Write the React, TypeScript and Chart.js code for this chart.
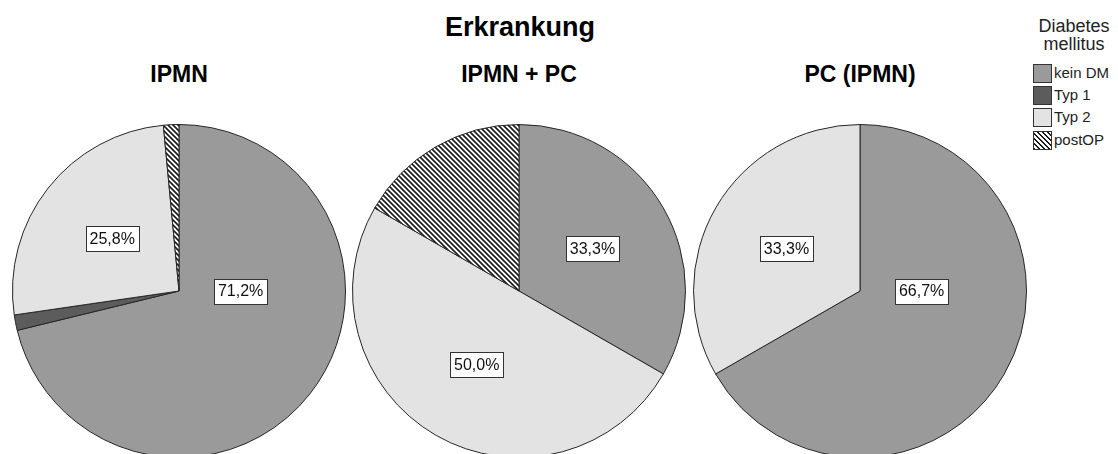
import React, { useEffect, useRef } from "react";
import { Chart, registerables } from "chart.js";
Chart.register(...registerables);

const categories = ["kein DM", "Typ 1", "Typ 2", "postOP"];
const groups = ["IPMN", "IPMN + PC", "PC (IPMN)"];
const ipmnValues = [71.2, 1.5, 25.8, 1.5];
const ipmnPcValues = [33.3, 0, 50.0, 16.7];
const pcIpmnValues = [66.7, 0, 33.3, 0];
const labelledCategories = ["kein DM", "Typ 1", "Typ 2"];
const chartTitle = "Erkrankung";
const legendTitle = ["Diabetes", "mellitus"];

const FONT = '"Liberation Sans", Arial, Helvetica, sans-serif';
const R = 166;
const CY = 291;
const centersX = [179, 519, 860];
const sliceColors = ["#9a9a9a", "#5c5c5c", "#e3e3e3"];

function makeHatch(): CanvasPattern {
  const c = document.createElement("canvas");
  c.width = 5;
  c.height = 5;
  const g = c.getContext("2d")!;
  g.fillStyle = "#ffffff";
  g.fillRect(0, 0, 5, 5);
  g.strokeStyle = "#1a1a1a";
  g.lineWidth = 1.6;
  g.beginPath();
  g.moveTo(-1, -1);
  g.lineTo(6, 6);
  g.moveTo(-1, 4);
  g.lineTo(1, 6);
  g.moveTo(4, -1);
  g.lineTo(6, 1);
  g.stroke();
  return g.createPattern(c, "repeat")!;
}

const labelPlugin = {
  id: "sliceLabels",
  afterDatasetsDraw(chart: any) {
    const ctx = chart.ctx as CanvasRenderingContext2D;
    const meta = chart.getDatasetMeta(0);
    const data = chart.data.datasets[0].data as number[];
    const labels = chart.data.labels as string[];
    const total = data.reduce((a, b) => a + b, 0);
    meta.data.forEach((arc: any, i: number) => {
      const v = data[i];
      const frac = v / total;
      if (frac < 0.05) return;
      if (!labelledCategories.includes(labels[i])) return;
      const { x, y, startAngle, endAngle, outerRadius } = arc.getProps(
        ["x", "y", "startAngle", "endAngle", "outerRadius"],
        true
      );
      let ang: number;
      let dist: number;
      if (frac > 0.5) {
        ang = 0;
        dist = 0.37 * outerRadius;
      } else {
        ang = (startAngle + endAngle) / 2;
        dist = 0.51 * outerRadius;
      }
      const lx = x + Math.cos(ang) * dist;
      const ly = y + Math.sin(ang) * dist;
      const text = v.toFixed(1).replace(".", ",") + "%";
      ctx.save();
      ctx.font = `16px ${FONT}`;
      const w = Math.round(ctx.measureText(text).width + 8);
      const h = 25;
      const bx = Math.round(lx - w / 2) + 0.5;
      const by = Math.round(ly - h / 2) + 0.5;
      ctx.fillStyle = "#ffffff";
      ctx.fillRect(bx, by, w, h);
      ctx.strokeStyle = "#333333";
      ctx.lineWidth = 1;
      ctx.strokeRect(bx, by, w, h);
      ctx.fillStyle = "#111111";
      ctx.textAlign = "center";
      ctx.textBaseline = "middle";
      ctx.fillText(text, lx, ly + 1);
      ctx.restore();
    });
  },
};

function Pie({ values, cx }: { values: number[]; cx: number }) {
  const ref = useRef<HTMLCanvasElement>(null);
  const size = 2 * R + 2;
  useEffect(() => {
    const hatch = makeHatch();
    const chart = new Chart(ref.current!, {
      type: "pie",
      data: {
        labels: categories,
        datasets: [
          {
            data: values,
            backgroundColor: [...sliceColors, hatch] as any,
            borderColor: "#262626",
            borderWidth: 1,
          },
        ],
      },
      options: {
        responsive: false,
        animation: false,
        layout: { padding: 0 },
        plugins: {
          legend: { display: false },
          tooltip: { enabled: false },
          title: { display: false },
        },
      },
      plugins: [labelPlugin],
    });
    return () => chart.destroy();
  }, []);
  return (
    <canvas
      ref={ref}
      width={size}
      height={size}
      style={{
        position: "absolute",
        left: cx - size / 2,
        top: CY - size / 2,
        width: size,
        height: size,
      }}
    />
  );
}

export default function App() {
  const allValues = [ipmnValues, ipmnPcValues, pcIpmnValues];
  const swatch = (i: number): React.CSSProperties => {
    const base: React.CSSProperties = {
      position: "absolute",
      left: 1033,
      width: 17,
      height: 17,
      border: "1px solid #333",
    };
    if (i < 3) return { ...base, background: sliceColors[i] };
    return {
      ...base,
      background:
        "repeating-linear-gradient(45deg, #1a1a1a 0px, #1a1a1a 1.2px, #ffffff 1.2px, #ffffff 3.5px)",
    };
  };
  const itemY = [73, 95, 117, 140];
  return (
    <div
      style={{
        position: "fixed",
        left: 0,
        top: 0,
        width: 1118,
        height: 454,
        overflow: "hidden",
        background: "#ffffff",
        fontFamily: FONT,
        color: "#000",
      }}
    >
      <div
        style={{
          position: "absolute",
          left: 320,
          width: 400,
          top: 14,
          textAlign: "center",
          fontSize: 27,
          lineHeight: "27px",
          fontWeight: "bold",
        }}
      >
        {chartTitle}
      </div>
      {groups.map((g, i) => (
        <div
          key={g}
          style={{
            position: "absolute",
            left: centersX[i] - 150,
            width: 300,
            top: 63,
            textAlign: "center",
            fontSize: 23,
            lineHeight: "23px",
            fontWeight: "bold",
          }}
        >
          {g}
        </div>
      ))}
      {groups.map((g, i) => (
        <Pie key={g} values={allValues[i]} cx={centersX[i]} />
      ))}
      <div
        style={{
          position: "absolute",
          left: 1024,
          width: 100,
          top: 17,
          textAlign: "center",
          fontSize: 18,
          lineHeight: "18px",
          color: "#222",
        }}
      >
        {legendTitle.map((t) => (
          <div key={t}>{t}</div>
        ))}
      </div>
      {categories.map((c, i) => (
        <React.Fragment key={c}>
          <div style={{ ...swatch(i), top: itemY[i] - 9 }} />
          <div
            style={{
              position: "absolute",
              left: 1054,
              top: itemY[i] - 9,
              fontSize: 15,
              lineHeight: "18px",
              color: "#222",
              whiteSpace: "nowrap",
            }}
          >
            {c}
          </div>
        </React.Fragment>
      ))}
    </div>
  );
}
